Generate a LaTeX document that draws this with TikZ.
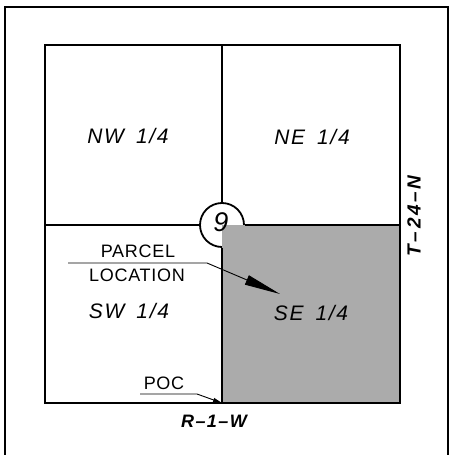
\documentclass[tikz,border=0pt]{standalone}
\usepackage{fontspec}
\setmainfont{Liberation Sans}
\newfontfamily\cadfont{Liberation Sans}[LetterSpace=8]
\newfontfamily\cadfontb{Liberation Sans}[LetterSpace=4]
\newfontfamily\cadfontw{Liberation Sans}[LetterSpace=14]
\usetikzlibrary{arrows.meta}
\begin{document}
\begin{tikzpicture}[x=1pt,y=-1pt,
  qlabel/.style={font=\cadfont\itshape\fontsize{21}{21}\selectfont, inner sep=0pt},
  plabel/.style={font=\cadfontb\fontsize{18}{18}\selectfont, inner sep=0pt},
  tlabel/.style={font=\cadfont\bfseries\itshape\fontsize{18}{18}\selectfont, inner sep=0pt},
  edge/.style={line width=1.8pt},
  leader/.style={line width=0.9pt},
  shade/.style={fill=black!33},
]
\useasboundingbox (0,0) rectangle (450,455);
% outer frame
\draw[line width=1.4pt] (5,7) -- (448,7) -- (448,460) -- (5,460) -- cycle;
% circle (covered by the shaded quarter in SE)
\node[circle, draw, line width=1.8pt, fill=white, minimum size=44pt, inner sep=0pt] (c9) at (222,225) {};
% shaded SE quarter
\fill[shade] (222,225) rectangle (400,403);
\node[font=\itshape\fontsize{27}{27}\selectfont, inner sep=0pt] (n9) at (221,222) {9};
% inner square and section lines
\coordinate (tl) at (45,45);
\coordinate (tr) at (400,45);
\coordinate (br) at (400,403);
\coordinate (bl) at (45,403);
\draw[edge] (tl) -- (tr) -- (br) -- (bl) -- cycle;
\coordinate (mt) at (222,45);
\coordinate (mb) at (222,403);
\coordinate (ml) at (45,225);
\coordinate (mr) at (400,225);
\draw[edge] (mt) -- (c9.north);
\draw[edge] (c9.south) -- (mb);
\draw[edge] (ml) -- (c9.west);
\draw[edge] (c9.east) -- (mr);
% quadrant labels
\node[qlabel] (nw) at (128,136) {NW\hspace{12pt}1/4};
\node[qlabel] (ne) at (312,137) {NE\hspace{12pt}1/4};
\node[qlabel] (sw) at (129,311) {SW\hspace{12pt}1/4};
\node[qlabel] (se) at (311,313) {SE\hspace{12pt}1/4};
% parcel location leader
\node[plabel] (parcel) at (138,251) {PARCEL};
\node[plabel] (location) at (137,275) {LOCATION};
\coordinate (p0) at (68,263);
\coordinate (p1) at (207,263);
\coordinate (ptip) at (280,294);
\draw[leader, -{Triangle[length=36pt,width=10pt]}] (p0) -- (p1) -- (ptip);
% POC leader
\node[plabel] (poc) at (164,383) {POC};
\coordinate (q0) at (140,394);
\coordinate (q1) at (197,394);
\draw[leader, -{Triangle[length=9pt,width=4pt]}] (q0) -- (q1) -- (mb);
% township / range
\node[tlabel] (rng) at (214,421) {R–1–W};
\node[font=\cadfontw\bfseries\itshape\fontsize{19}{19}\selectfont, inner sep=0pt, rotate=90] (twp) at (414,216) {T–24–N};
\end{tikzpicture}
\end{document}
